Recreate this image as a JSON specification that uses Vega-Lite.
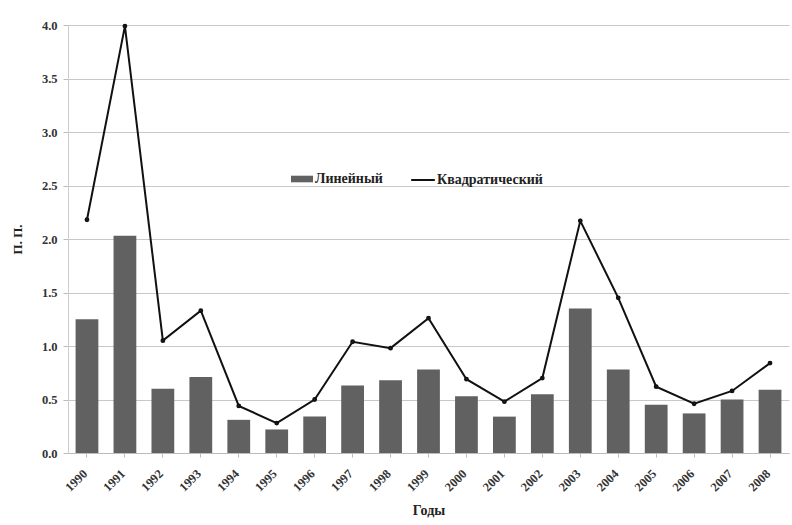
{
  "$schema": "https://vega.github.io/schema/vega-lite/v6.json",
  "width": 721,
  "height": 428,
  "autosize": "none",
  "padding": {"left": 68, "top": 25, "right": 3, "bottom": 72},
  "background": "white",
  "config": {
    "font": "Liberation Serif",
    "view": {"stroke": null},
    "axis": {"labelFont": "Liberation Serif", "titleFont": "Liberation Serif", "labelFontWeight": "bold", "titleFontWeight": "bold", "labelColor": "#333", "titleColor": "#222"}
  },
  "data": {
    "values": [
      {"year": "1990", "lin": 1.25, "quad": 2.18},
      {"year": "1991", "lin": 2.03, "quad": 3.99},
      {"year": "1992", "lin": 0.60, "quad": 1.05},
      {"year": "1993", "lin": 0.71, "quad": 1.33},
      {"year": "1994", "lin": 0.31, "quad": 0.44},
      {"year": "1995", "lin": 0.22, "quad": 0.28},
      {"year": "1996", "lin": 0.34, "quad": 0.50},
      {"year": "1997", "lin": 0.63, "quad": 1.04},
      {"year": "1998", "lin": 0.68, "quad": 0.98},
      {"year": "1999", "lin": 0.78, "quad": 1.26},
      {"year": "2000", "lin": 0.53, "quad": 0.69},
      {"year": "2001", "lin": 0.34, "quad": 0.48},
      {"year": "2002", "lin": 0.55, "quad": 0.70},
      {"year": "2003", "lin": 1.35, "quad": 2.17},
      {"year": "2004", "lin": 0.78, "quad": 1.45},
      {"year": "2005", "lin": 0.45, "quad": 0.62},
      {"year": "2006", "lin": 0.37, "quad": 0.46},
      {"year": "2007", "lin": 0.50, "quad": 0.58},
      {"year": "2008", "lin": 0.59, "quad": 0.84}
    ]
  },
  "encoding": {
    "x": {
      "field": "year",
      "type": "ordinal",
      "sort": null,
      "scale": {"paddingInner": 0.4, "paddingOuter": 0.2},
      "axis": {
        "title": "Годы",
        "titleFontSize": 14,
        "titlePadding": 10,
        "labelAngle": -45,
        "labelFontSize": 12.5,
        "labelPadding": 10,
        "labelOffset": -6,
        "domainColor": "#bbbbbb",
        "tickColor": "#bbbbbb",
        "tickSize": 4
      }
    }
  },
  "layer": [
    {
      "mark": {"type": "bar"},
      "encoding": {
        "y": {
          "field": "lin",
          "type": "quantitative",
          "scale": {"domain": [0, 4], "nice": false},
          "axis": {
            "title": "П. П.",
            "titleFontSize": 13,
            "titlePadding": 17,
            "values": [0, 0.5, 1, 1.5, 2, 2.5, 3, 3.5, 4],
            "format": ".1f",
            "labelFontSize": 12.5,
            "labelPadding": 6,
            "gridColor": "#c8c8c8",
            "domainColor": "#cccccc",
            "tickColor": "#bbbbbb",
            "tickSize": 5
          }
        },
        "fill": {
          "datum": "Линейный",
          "scale": {"range": ["#616161"]},
          "legend": {
            "title": null,
            "orient": "none",
            "legendX": 222,
            "legendY": 142,
            "symbolType": "M-1,-0.3H1V0.3H-1Z",
            "symbolSize": 484,
            "labelFont": "Liberation Serif",
            "labelFontWeight": "bold",
            "labelFontSize": 14,
            "labelColor": "#222",
            "labelOffset": 1
          }
        }
      }
    },
    {
      "mark": {"type": "line", "color": "#111111", "strokeWidth": 2, "point": {"filled": true, "size": 8, "color": "#444"}},
      "encoding": {
        "y": {"field": "quad", "type": "quantitative"},
        "stroke": {
          "datum": "Квадратический",
          "scale": {"range": ["#111111"]},
          "legend": {
            "title": null,
            "orient": "none",
            "legendX": 342,
            "legendY": 142,
            "symbolType": "stroke",
            "symbolSize": 560,
            "symbolStrokeWidth": 2,
            "labelFont": "Liberation Serif",
            "labelFontWeight": "bold",
            "labelFontSize": 14,
            "labelColor": "#222",
            "labelOffset": 1
          }
        }
      }
    }
  ]
}
